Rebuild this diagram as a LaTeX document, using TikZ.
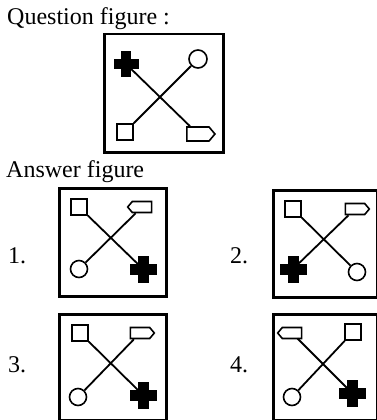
\documentclass[tikz,border=0pt]{standalone}
\usepackage{fontspec}
\setmainfont{Liberation Serif}
\usetikzlibrary{shapes.symbols}
\tikzset{
  boxframe/.style={draw, line width=2.5pt},
  link/.style={line width=1.8pt},
  sqr/.style={draw, fill=white, line width=1.6pt, rectangle, minimum size=16pt, inner sep=0pt},
  circ/.style={draw, fill=white, line width=1.6pt, circle, minimum size=17pt, inner sep=0pt},
  pent/.style={draw, fill=white, line width=1.6pt, signal, signal pointer angle=100,
               minimum width=24pt, minimum height=11pt, inner sep=0pt},
  bigpent/.style={pent, minimum width=28pt, minimum height=14pt},
  plushub/.style={circle, minimum size=14pt, inner sep=0pt},
  lbl/.style={anchor=base west, inner sep=0pt, font=\fontsize{24}{28}\selectfont}
}
\newcommand\plusfill[3]{%
  \fill ([xshift=-#2pt,yshift=-#3pt]#1.center) rectangle ([xshift=#2pt,yshift=#3pt]#1.center);
  \fill ([xshift=-#3pt,yshift=-#2pt]#1.center) rectangle ([xshift=#3pt,yshift=#2pt]#1.center);}
\begin{document}
\begin{tikzpicture}[x=1pt,y=-1pt]
\useasboundingbox (0,0) rectangle (377,420);

% Titles
\node[lbl] (qtitle) at (7,25) {Question figure :};
\node[lbl] (atitle) at (6,177) {Answer figure};
\node[lbl] (n1) at (8,263) {1.};
\node[lbl] (n2) at (230,263) {2.};
\node[lbl] (n3) at (8,372) {3.};
\node[lbl] (n4) at (230,372) {4.};

% Question figure
\begin{scope}[shift={(103,33)}]
  \node[boxframe, rectangle, minimum width=119pt, minimum height=118pt, anchor=north west, inner sep=0pt] (qbox) at (0,0) {};
  \node[plushub] (qplus) at (23,31) {};
  \node[circ, minimum size=18pt] (qcirc) at (95,26) {};
  \node[sqr] (qsq) at (22,99) {};
  \node[bigpent, signal to=east] (qpent) at (95,101) {};
  \draw[link] (qplus) -- (qpent);
  \draw[link] (qcirc) -- (qsq);
  \plusfill{qplus}{12.5}{5}
\end{scope}

% Answer 1
\begin{scope}[shift={(58,187)}]
  \node[boxframe, rectangle, minimum width=107pt, minimum height=108pt, anchor=north west, inner sep=0pt] (b1) at (0,0) {};
  \node[sqr] (a1sq) at (21,20) {};
  \node[pent, signal to=west] (a1pent) at (84,20) {};
  \node[circ] (a1circ) at (21,82) {};
  \node[plushub] (a1plus) at (85,82) {};
  \draw[link] (a1sq) -- (a1plus);
  \draw[link] (a1circ) -- (a1pent);
  \plusfill{a1plus}{13.5}{5.5}
\end{scope}

% Answer 2
\begin{scope}[shift={(272,189)}]
  \node[boxframe, rectangle, minimum width=104pt, minimum height=107pt, anchor=north west, inner sep=0pt] (b2) at (0,0) {};
  \node[sqr] (a2sq) at (21,20) {};
  \node[pent, signal to=east] (a2pent) at (83,20) {};
  \node[plushub] (a2plus) at (21,80) {};
  \node[circ] (a2circ) at (85,83) {};
  \draw[link] (a2sq) -- (a2circ);
  \draw[link] (a2plus) -- (a2pent);
  \plusfill{a2plus}{13.5}{5.5}
\end{scope}

% Answer 3
\begin{scope}[shift={(58,313)}]
  \node[boxframe, rectangle, minimum width=107pt, minimum height=106pt, anchor=north west, inner sep=0pt] (b3) at (0,0) {};
  \node[sqr] (a3sq) at (22,20) {};
  \node[pent, signal to=east] (a3pent) at (82,20) {};
  \node[circ] (a3circ) at (20,84) {};
  \node[plushub] (a3plus) at (85,82) {};
  \draw[link] (a3sq) -- (a3plus);
  \draw[link] (a3circ) -- (a3pent);
  \plusfill{a3plus}{13.5}{5.5}
\end{scope}

% Answer 4
\begin{scope}[shift={(272,313)}]
  \node[boxframe, rectangle, minimum width=104pt, minimum height=106pt, anchor=north west, inner sep=0pt] (b4) at (0,0) {};
  \node[pent, signal to=west] (a4pent) at (20,20) {};
  \node[sqr] (a4sq) at (81,19) {};
  \node[circ] (a4circ) at (20,84) {};
  \node[plushub] (a4plus) at (80,80) {};
  \draw[link] (a4pent) -- (a4plus);
  \draw[link] (a4circ) -- (a4sq);
  \plusfill{a4plus}{13.5}{5.5}
\end{scope}
\end{tikzpicture}
\end{document}
